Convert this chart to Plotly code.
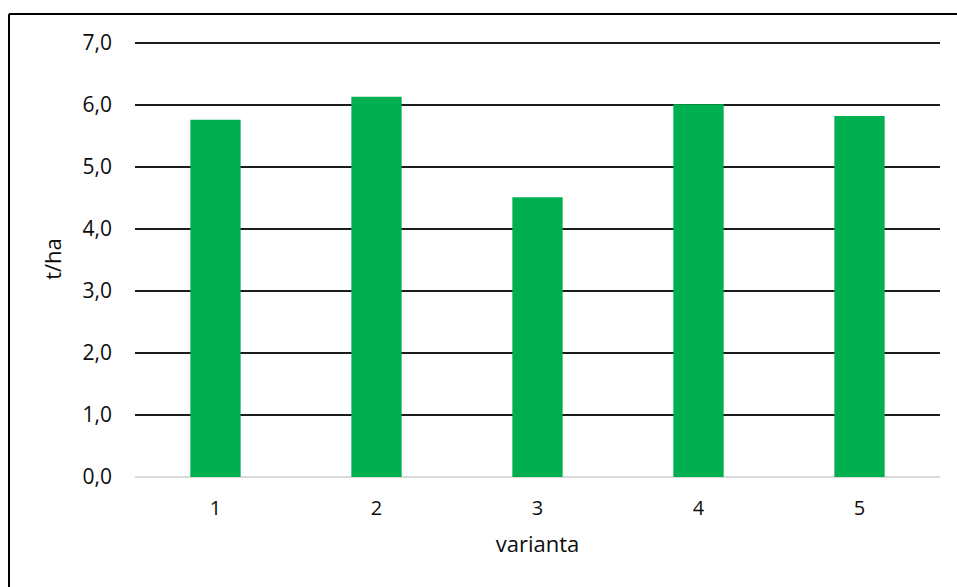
import plotly.graph_objects as go

# Yield per variant
varianty = ["1", "2", "3", "4", "5"]
vynos = [5.76, 6.13, 4.51, 6.01, 5.82]
tick_vals = [0, 1, 2, 3, 4, 5, 6, 7]
tick_text = ["0,0", "1,0", "2,0", "3,0", "4,0", "5,0", "6,0", "7,0"]

font_family = "Open Sans, Liberation Sans, sans-serif"
text_color = "#0d0d0d"

fig = go.Figure()
fig.add_trace(go.Bar(
    x=varianty,
    y=vynos,
    marker=dict(color="#00B050", line=dict(width=0)),
    width=0.3125,
    hoverinfo="x+y",
))

# chart frame (left and top edges)
frame_top = 1.062
frame_left = -0.1565
fig.add_shape(type="line", xref="paper", yref="paper", x0=frame_left, x1=1.05,
              y0=frame_top, y1=frame_top, line=dict(color="black", width=2))
fig.add_shape(type="line", xref="paper", yref="paper", x0=frame_left, x1=frame_left,
              y0=frame_top, y1=-0.3, line=dict(color="black", width=2))

fig.update_layout(
    width=957,
    height=587,
    margin=dict(l=135, r=17, t=41, b=110),
    paper_bgcolor="white",
    plot_bgcolor="white",
    showlegend=False,
    font=dict(family=font_family, size=21, color=text_color),
    xaxis=dict(
        type="category",
        showgrid=False,
        showline=False,
        zeroline=False,
        ticks="",
        ticklabelstandoff=17,
        tickfont=dict(size=20),
        title=dict(text="varianta", font=dict(size=22), standoff=16),
    ),
    yaxis=dict(
        range=[0, 7.03],
        tickvals=tick_vals,
        ticktext=tick_text,
        showgrid=True,
        gridcolor="#1c1c1c",
        gridwidth=2,
        zeroline=True,
        zerolinecolor="#d9d9d9",
        zerolinewidth=2,
        showline=False,
        ticks="",
        ticklabelstandoff=22,
        tickfont=dict(size=21),
        title=dict(text="t/ha", font=dict(size=22), standoff=14),
    ),
    bargap=0.6875,
)

fig.write_html("out.html")
